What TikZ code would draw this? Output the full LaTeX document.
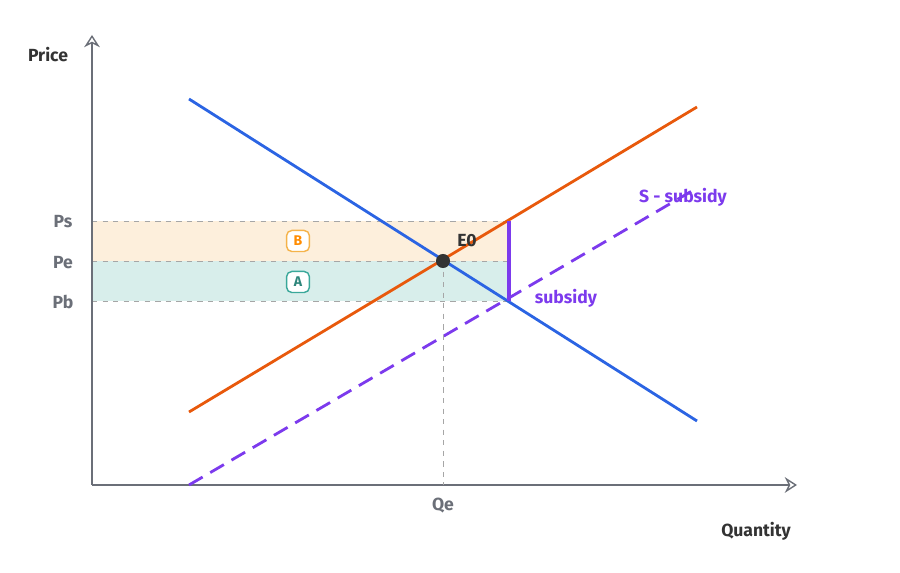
\documentclass[tikz,border=0pt]{standalone}
\usepackage{fontspec}
\setmainfont{Fira Sans}
\usetikzlibrary{arrows.meta}
\definecolor{axisgray}{HTML}{6B6F78}
\definecolor{demandblue}{HTML}{2B64E3}
\definecolor{supplyorange}{HTML}{E8590C}
\definecolor{subpurple}{HTML}{7C3AED}
\definecolor{bfill}{HTML}{FDEFDC}
\definecolor{afill}{HTML}{D8EEEB}
\definecolor{bline}{HTML}{F5B34A}
\definecolor{aline}{HTML}{3AA89A}
\begin{document}
\begin{tikzpicture}[x=0.02cm, y=-0.02cm,
      axis/.style = {draw=axisgray, thick, -{Stealth[open,length=7pt,width=9pt]}},
      curve/.style = {line width=1.6pt},
      guide/.style = {draw=gray!70, dashed, thin},
      lbl/.style = {font=\bfseries, text=black!80},
      badge/.style = {draw, thick, rounded corners=3pt, fill=white, font=\bfseries\footnotesize,
         minimum width=13pt, minimum height=12pt, inner sep=1pt}]

   \useasboundingbox (0,0) rectangle (900,573);

   % areas
   \fill[bfill] (92,221) rectangle (509,261);
   \fill[afill] (92,261) rectangle (509,301);
   \draw[guide] (92,221) -- (509,221);
   \draw[guide] (92,261) -- (509,261);
   \draw[guide] (92,301) -- (509,301);

   % axes
   \coordinate (o) at (92,485);
   \coordinate (ytop) at (92,35);
   \coordinate (xend) at (797,485);
   \draw[axis] (o) -- (ytop);
   \draw[axis] (o) -- (xend);

   % curves
   \coordinate (d0) at (189,99);
   \coordinate (d1) at (697,421);
   \coordinate (s0) at (189,412);
   \coordinate (s1) at (697,107);
   \coordinate (t0) at (189,485);
   \coordinate (t1) at (697,188);
   \draw[curve, demandblue] (d0) -- (d1);
   \draw[curve, supplyorange] (s0) -- (s1);
   \draw[curve, subpurple, dashed, dash pattern=on 9pt off 5pt] (t0) -- (t1);

   % equilibrium
   \coordinate (e0) at (443,261);
   \coordinate (qe) at (443,485);
   \draw[guide] (e0) -- (qe);
   \fill[black!80] (e0) circle (4pt);

   % subsidy wedge
   \coordinate (w0) at (509,221);
   \coordinate (w1) at (509,301);
   \draw[subpurple, line width=2.8pt] (w0) -- (w1);

   % labels
   \node[lbl] (price) at (48,55) {Price};
   \node[lbl] (quantity) at (756,531) {Quantity};
   \node[lbl, text=axisgray] (qelbl) at (443,506) {Qe};
   \node[lbl, text=axisgray] (ps) at (63,222) {Ps};
   \node[lbl, text=axisgray] (pe) at (63,263) {Pe};
   \node[lbl, text=axisgray] (pb) at (63,302) {Pb};
   \node[lbl] (e0lbl) at (467,241) {E0};
   \node[lbl, text=subpurple] (sublbl) at (566,298) {subsidy};
   \node[lbl, text=subpurple] (ssub) at (683,197) {S - subsidy};
   \node[badge, draw=bline, text=orange!90!yellow] (bb) at (298,241) {B};
   \node[badge, draw=aline, text=aline!80!black] (ab) at (298,282) {A};
\end{tikzpicture}
\end{document}
